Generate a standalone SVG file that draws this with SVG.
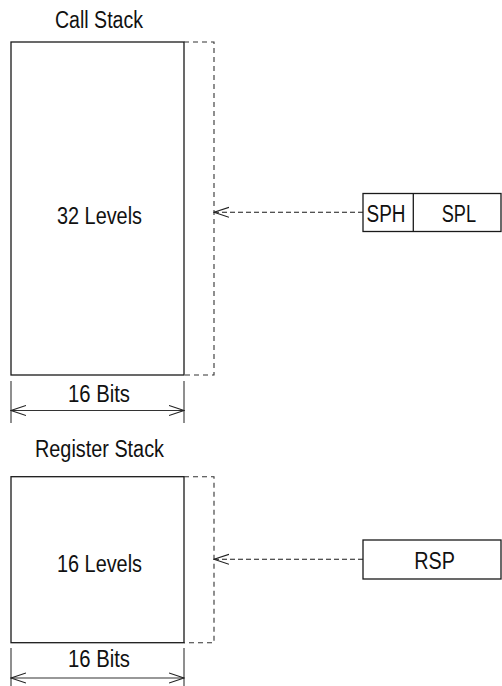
<svg xmlns="http://www.w3.org/2000/svg" width="502" height="686" viewBox="0 0 502 686">
  <style>
    .box { fill: #fff; stroke: #1a1a1a; stroke-width: 1.3; }
    .ext { fill: none; stroke: #333; stroke-width: 1.1; stroke-dasharray: 5 4; }
    .dim { fill: none; stroke: #333; stroke-width: 1.1; }
    .ptr { fill: none; stroke: #1a1a1a; stroke-width: 1.1; stroke-dasharray: 5 3; }
    .lbl { font-family: "Liberation Sans Narrow", "Liberation Sans", Arial, sans-serif; font-size: 23px; fill: #111; }
  </style>
  <defs>
    <!-- open chevron, tip at the line end -->
    <marker id="open" viewBox="0 0 16 12" refX="15" refY="6" markerWidth="16" markerHeight="12" markerUnits="userSpaceOnUse" orient="auto-start-reverse">
      <path d="M0,1 L15,6 L0,11" fill="none" stroke="#222" stroke-width="1.1"/>
    </marker>
  </defs>

  <rect width="502" height="686" fill="#fff"/>

  <!-- Call stack -->
  <g id="call-stack">
    <text class="lbl" x="55" y="27.5" textLength="88" lengthAdjust="spacingAndGlyphs">Call Stack</text>
    <rect class="box" x="11" y="42" width="173" height="333"/>
    <path class="ext" d="M184,42 H214 V375 H184"/>
    <text class="lbl" x="57" y="223.5" textLength="85" lengthAdjust="spacingAndGlyphs">32 Levels</text>
  </g>

  <g id="call-width">
    <line class="dim" x1="11" y1="381" x2="11" y2="423"/>
    <line class="dim" x1="184" y1="381" x2="184" y2="423"/>
    <line class="dim" x1="11" y1="410.5" x2="184" y2="410.5" marker-start="url(#open)" marker-end="url(#open)"/>
    <text class="lbl" x="68" y="401.5" textLength="62" lengthAdjust="spacingAndGlyphs">16 Bits</text>
  </g>

  <!-- Stack pointer register pair -->
  <g id="sp">
    <rect class="box" x="363" y="193.5" width="138" height="38"/>
    <line class="box" x1="413.3" y1="193.5" x2="413.3" y2="231.5"/>
    <text class="lbl" x="366.5" y="222.3" textLength="39" lengthAdjust="spacingAndGlyphs">SPH</text>
    <text class="lbl" x="441.7" y="222.3" textLength="34.3" lengthAdjust="spacingAndGlyphs">SPL</text>
  </g>

  <!-- Register stack -->
  <g id="register-stack">
    <text class="lbl" x="35" y="456.7" textLength="129" lengthAdjust="spacingAndGlyphs">Register Stack</text>
    <rect class="box" x="11" y="476.7" width="173" height="166"/>
    <path class="ext" d="M184,476.7 H214 V642.7 H184"/>
    <text class="lbl" x="57" y="571.7" textLength="85" lengthAdjust="spacingAndGlyphs">16 Levels</text>
  </g>

  <g id="register-width">
    <line class="dim" x1="11" y1="648" x2="11" y2="686"/>
    <line class="dim" x1="184" y1="648" x2="184" y2="686"/>
    <line class="dim" x1="11" y1="678" x2="184" y2="678" marker-start="url(#open)" marker-end="url(#open)"/>
    <text class="lbl" x="68" y="666.7" textLength="62" lengthAdjust="spacingAndGlyphs">16 Bits</text>
  </g>

  <!-- Register stack pointer -->
  <g id="rsp">
    <rect class="box" x="363" y="540" width="138" height="39"/>
    <text class="lbl" x="414.3" y="569.3" textLength="40.7" lengthAdjust="spacingAndGlyphs">RSP</text>
  </g>

  <!-- Pointer connectors -->
  <g id="connectors">
    <line class="ptr" x1="363" y1="212.3" x2="214" y2="212.3" marker-end="url(#open)"/>
    <line class="ptr" x1="363" y1="559.3" x2="214" y2="559.3" marker-end="url(#open)"/>
  </g>
</svg>
